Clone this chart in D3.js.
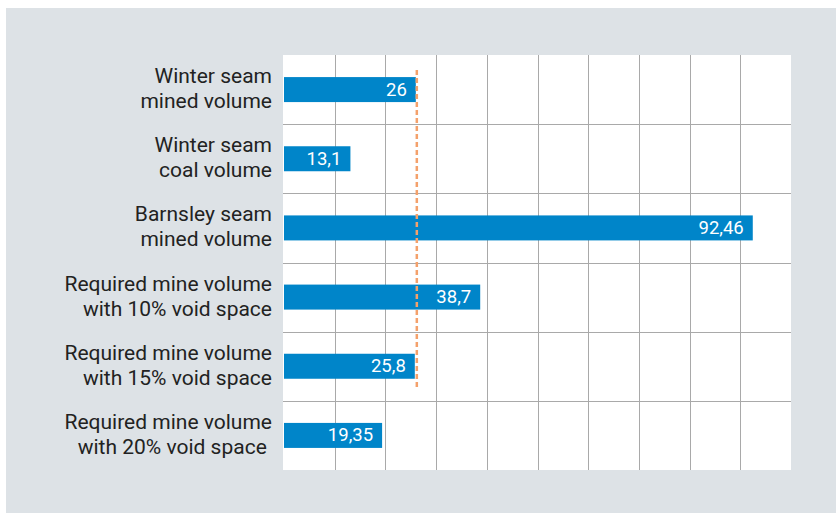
<!DOCTYPE html>
<html>
<head>
<meta charset="utf-8">
<script src="https://cdn.jsdelivr.net/npm/d3@7"></script>
<style>
  body { margin: 0; background: #fff; }
  svg text { font-family: Roboto, sans-serif; white-space: pre; }
</style>
</head>
<body>
<div id="chart"></div>
<script>
const categories = [
  ["Winter seam", "mined volume"],
  ["Winter seam", "coal volume"],
  ["Barnsley seam", "mined volume"],
  ["Required mine volume", "with 10% void space"],
  ["Required mine volume", "with 15% void space"],
  ["Required mine volume", "with 20% void space "]
];
const values = [26, 13.1, 92.46, 38.7, 25.8, 19.35];
const valueLabels = ["26", "13,1", "92,46", "38,7", "25,8", "19,35"];
const xTicks = [10, 20, 30, 40, 50, 60, 70, 80, 90];
const refValue = 26; // dashed reference line at the winter seam mined volume

const W = 836, H = 513;
const margin = { top: 55, right: 45, bottom: 43, left: 284 };
const width = W - margin.left - margin.right,
  height = H - margin.top - margin.bottom;

const svg = d3
  .select("#chart")
  .append("svg")
  .attr("width", W)
  .attr("height", H);

// grey panel
svg.append("rect")
  .attr("x", 6).attr("y", 8)
  .attr("width", W - 6).attr("height", H - 8)
  .attr("fill", "#dde2e6");

const g = svg.append("g")
  .attr("transform", `translate(${margin.left},${margin.top})`);

g.append("rect")
  .attr("x", -1).attr("y", 0)
  .attr("width", width + 1).attr("height", height)
  .attr("fill", "#fff");

const x = d3.scaleLinear().domain([0, 100]).range([0, width]);
const y = d3.scaleBand().domain(d3.range(categories.length)).range([0, height]);

// vertical gridlines
g.append("g")
  .selectAll("line")
  .data(xTicks)
  .join("line")
  .attr("x1", (d) => Math.round(x(d)) + 0.5)
  .attr("x2", (d) => Math.round(x(d)) + 0.5)
  .attr("y1", 0)
  .attr("y2", height)
  .attr("stroke", "#a9a9a9")
  .attr("stroke-width", 1);

// horizontal row separators
g.append("g")
  .selectAll("line")
  .data(d3.range(1, categories.length))
  .join("line")
  .attr("x1", -1)
  .attr("x2", width)
  .attr("y1", (d) => Math.round(y(d)) + 0.5)
  .attr("y2", (d) => Math.round(y(d)) + 0.5)
  .attr("stroke", "#a9a9a9")
  .attr("stroke-width", 1);

const barH = 25;

// bars
g.selectAll(".bar")
  .data(values)
  .join("rect")
  .attr("class", "bar")
  .attr("x", 0)
  .attr("y", (d, i) => y(i) + y.bandwidth() / 2 - barH / 2)
  .attr("width", (d) => x(d))
  .attr("height", barH)
  .attr("fill", "#0085c9");

// value labels inside bars
g.selectAll(".val")
  .data(values)
  .join("text")
  .attr("class", "val")
  .attr("x", (d) => x(d) - 9)
  .attr("y", (d, i) => y(i) + y.bandwidth() / 2 + 6)
  .attr("text-anchor", "end")
  .attr("fill", "#fff")
  .style("font-size", "18.5px")
  .text((d, i) => valueLabels[i]);

// category labels
const cat = g.selectAll(".cat")
  .data(categories)
  .join("text")
  .attr("class", "cat")
  .attr("text-anchor", "end")
  .attr("fill", "#222")
  .style("font-size", "21px")
  .attr("transform", (d, i) => `translate(-12,${y(i) + y.bandwidth() / 2})`);

cat.selectAll("tspan")
  .data((d) => d)
  .join("tspan")
  .attr("x", 0)
  .attr("y", (d, j) => (j === 0 ? -6.5 : 18.5))
  .text((d) => d);

// dashed reference line
g.append("line")
  .attr("x1", x(refValue) + 1)
  .attr("x2", x(refValue) + 1)
  .attr("y1", y(0) + 15)
  .attr("y2", y(4) + y.bandwidth() - 12)
  .attr("stroke", "#f4a16b")
  .attr("stroke-width", 2.5)
  .attr("stroke-dasharray", "5,3");
</script>
</body>
</html>
